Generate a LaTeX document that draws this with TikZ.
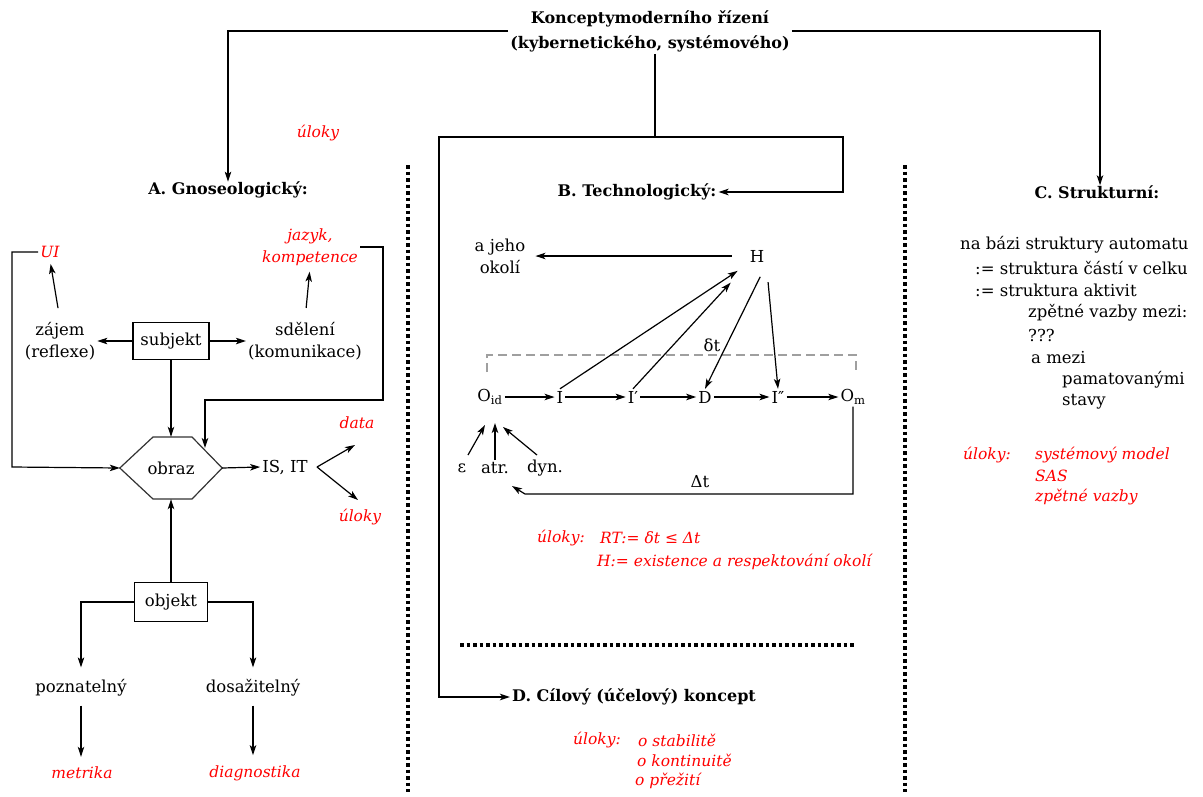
\documentclass[tikz,border=0pt]{standalone}
\usepackage{fontspec}
\setmainfont{DejaVu Serif}
\usetikzlibrary{arrows.meta}
\begin{document}
\begin{tikzpicture}[x=1pt,y=-1pt,
  font=\fontsize{16.5}{22}\selectfont,
  every node/.style={inner sep=2pt, align=center},
  rt/.style={text=red, font=\fontsize{15.5}{22}\selectfont\itshape},
  ttl/.style={font=\fontsize{16}{25}\selectfont\bfseries},
  ln/.style={line width=1.2pt},
  arr/.style={ln, -{Stealth[length=10pt,width=6.5pt,inset=2.5pt]}},
  thk/.style={line width=2pt},
  box/.style={draw, line width=1.2pt, inner sep=1pt},
  dots/.style={line width=3.5pt, dash pattern=on 3.5pt off 3pt},
  gdash/.style={line width=2pt, gray!75, dash pattern=on 9pt off 5pt}
]
\useasboundingbox (0,0) rectangle (1203,796);

% ---------- top ----------
\node[ttl] (top) at (650,31) {Konceptymoderního řízení\\(kybernetického, systémového)};
\node[ttl] (A) at (228,190) {A. Gnoseologický:};
\node[ttl] (B) at (637,192) {B. Technologický:};
\node[ttl] (C) at (1097,192) {C. Strukturní:};
\node[ttl, anchor=west] (D) at (510,697) {D. Cílový (účelový) koncept};
\node[rt] (ul0) at (318,133) {úloky};

\coordinate (m1) at (655,137);
\draw[arr] (top.west) -| ([yshift=-2pt]A.north);
\draw[arr] (top.east) -| ([yshift=-2pt]C.north -| 1100,0);
\draw[thk] (top.south -| m1) -- (m1);
\draw[arr, thk] (m1) -- (843,137) -- (843,192) -- (B.east);
\draw[arr, thk] (m1) -- (439,137) -- (439,697) -- (D.west);

% dotted separators
\draw[dots] (408,165) -- (408,792);
\draw[dots] (905,165) -- (905,792);
\draw[dots] (460,645) -- (855,645);

% ---------- A ----------
\node[rt] (UI) at (50,252) {UI};
\node[rt] (jaz) at (310,247) {jazyk,\\kompetence};
\node (zaj) at (60,341) {zájem\\(reflexe)};
\node (sde) at (305,341) {sdělení\\(komunikace)};
\node[box, minimum width=76pt, minimum height=37pt] (subj) at (171,341) {subjekt};
\node[minimum width=102pt, minimum height=62pt] (obraz) at (171,468) {obraz};
\draw[ln, gray!40!black] (obraz.west) -- (153,437) -- (192,437) -- (obraz.east) -- (192,499) -- (153,499) -- cycle;
\node (isit) at (285,467) {IS, IT};
\node[rt] (data) at (357,423) {data};
\node[rt] (ul1) at (360,517) {úloky};
\node[box, minimum width=73pt, minimum height=39pt] (obj) at (171,602) {objekt};
\node (pozn) at (81,688) {poznatelný};
\node (dosa) at (253,688) {dosažitelný};
\node[rt] (metr) at (82,773) {metrika};
\node[rt] (diag) at (255,773) {diagnostika};

\draw[arr, shorten <=12pt, shorten >=4pt] (zaj.north) -- (UI.south);
\draw[arr, shorten <=12pt, shorten >=4pt] (sde.north) -- (jaz.south);
\draw[arr] (UI.west) -- (12,252) -- (12,467) -- (obraz.west);
\draw[arr] (jaz.east) -- (383,247) -- (383,400) -- (205,400) -- (205,448);
\draw[arr] (subj.west) -- (zaj.east);
\draw[arr] (subj.east) -- (sde.west);
\draw[arr] (subj.south) -- (obraz.north);
\draw[arr] (obraz.east) -- (isit.west);
\coordinate (fork) at (317,467);
\draw[arr] (fork) -- (355,445);
\draw[arr] (fork) -- (358,500);
\draw[arr] (obj.north) -- (obraz.south);
\draw[arr, shorten >=10pt] (obj.west) -| (pozn.north);
\draw[arr, shorten >=10pt] (obj.east) -| (dosa.north);
\draw[arr, shorten <=7pt, shorten >=8pt] (pozn.south) -- (pozn.south |- metr.north);
\draw[arr, shorten <=7pt, shorten >=8pt] (dosa.south) -- (dosa.south |- diag.north);

% ---------- B ----------
\node (aj) at (500,256) {a jeho\\okolí};
\node (H) at (757,256) {H};
\draw[arr, shorten <=16pt, shorten >=8pt] (H.west) -- (aj.east |- H.west);

\node (Oid) at (490,397) {O\textsubscript{id}};
\node (I) at (560,397) {I};
\node (I1) at (633,397) {I′};
\node (Dn) at (705,397) {D};
\node (I2) at (778,397) {I″};
\node (Om) at (853,397) {O\textsubscript{m}};
\draw[arr] (Oid) -- (I);
\draw[arr] (I) -- (I1);
\draw[arr] (I1) -- (Dn);
\draw[arr] (Dn) -- (I2);
\draw[arr] (I2) -- (Om);

\draw[gdash] (487,372) -- (487,355) -- (856,355) -- (856,372);
\node (dt) at (712,345) {δt};

\draw[arr, shorten >=12pt] (I.north) -- (H.south west);
\draw[arr, shorten >=25pt] (I1.north) -- (H.south west);
\draw[arr, shorten <=14pt] (H.south east) -- (Dn.north);
\draw[arr, shorten <=18pt] (H.south east) -- (I2.north);

\node (eps) at (462,468) {ε};
\node (atr) at (495,468) {atr.};
\node (dyn) at (545,468) {dyn.};
\draw[arr] (468,455) -- (485,425);
\draw[arr] (atr.north) -- (495,423);
\draw[arr] (537,455) -- (503,427);

\draw[arr] (Om.south) -- (853,494) -- (525,494) -- (512,486);
\node (Dt) at (700,482) {Δt};

\node[rt, anchor=west] (ulB) at (535,538) {úloky:};
\node[rt, anchor=west] (rt1) at (598,538) {RT:= δt ≤ Δt};
\node[rt, anchor=west] (rt2) at (595,562) {H:= existence a respektování okolí};

\node[rt, anchor=west] (ulD) at (571,740) {úloky:};
\node[rt, anchor=west] (d1) at (636,740) {o stabilitě};
\node[rt, anchor=west] (d2) at (635,760) {o kontinuitě};
\node[rt, anchor=west] (d3) at (633,781) {o přežití};

% ---------- C ----------
\node[anchor=west] (c1) at (958,245) {na bázi struktury automatu};
\node[anchor=west] (c2) at (973,268) {:= struktura  částí v celku};
\node[anchor=west] (c3) at (973,290) {:= struktura aktivit};
\node[anchor=west] (c4) at (1026,313) {zpětné vazby mezi:};
\node[anchor=west] (c5) at (1026,335) {???};
\node[anchor=west] (c6) at (1029,358) {a mezi};
\node[anchor=west] (c7) at (1060,380) {pamatovanými};
\node[anchor=west] (c8) at (1060,402) {stavy};
\node[rt, anchor=west] (ulC) at (961,455) {úloky:};
\node[rt, anchor=west] (c9) at (1033,455) {systémový model};
\node[rt, anchor=west] (c10) at (1033,476) {SAS};
\node[rt, anchor=west] (c11) at (1033,497) {zpětné vazby};
\end{tikzpicture}
\end{document}
